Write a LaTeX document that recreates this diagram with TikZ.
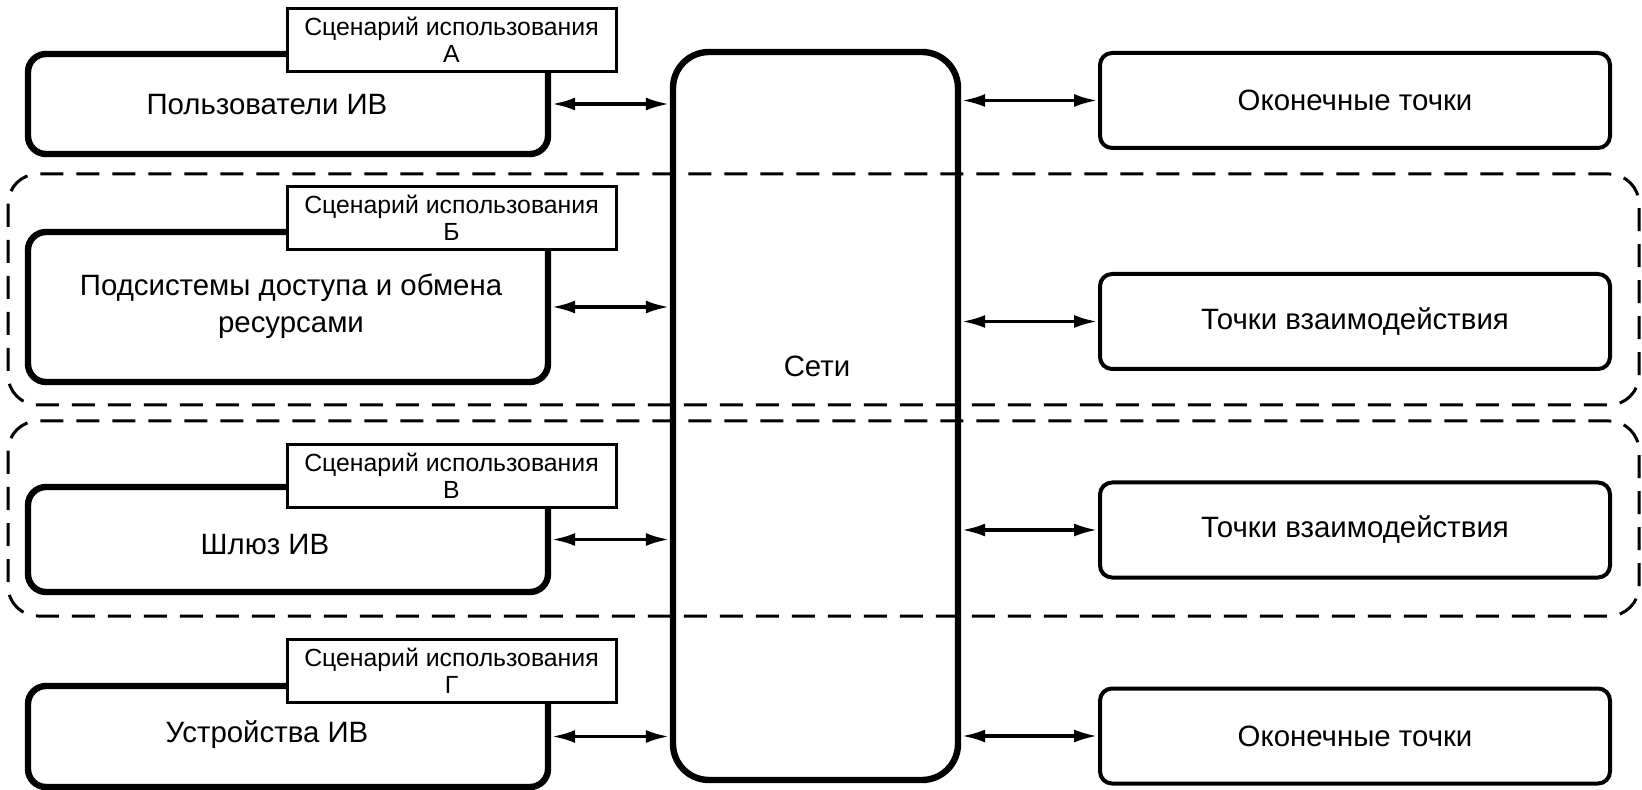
\documentclass[tikz,border=0pt]{standalone}
\usepackage{fontspec}
\setmainfont{Liberation Sans}
\usetikzlibrary{arrows.meta}

\tikzset{
  sysbox/.style={draw, line width=3.2pt, rounded corners=9pt, fill=white, inner sep=0pt},
  casebox/.style={draw, line width=1.5pt, fill=white, align=center, inner sep=0pt,
    minimum width=164.5pt, minimum height=31.5pt, font=\fontsize{12.4}{13.5}\selectfont},
  pointbox/.style={draw, line width=2pt, rounded corners=6pt, minimum width=255pt,
    minimum height=47.5pt, font=\fontsize{14.7}{18.5}\selectfont},
  zone/.style={draw, line width=1.5pt, dash pattern=on 11.5pt off 6.5pt, rounded corners=15pt},
  link/.style={line width=1.9pt, {Latex[length=12pt,width=6.5pt]}-{Latex[length=12pt,width=6.5pt]}},
  txt/.style={align=center, font=\fontsize{14.7}{18.5}\selectfont}
}

\begin{document}
\begin{tikzpicture}[x=0.5pt, y=-0.5pt]
\useasboundingbox (0,0) rectangle (1642,790);
% Dashed zones
\draw[zone] (8,174) rectangle (1639,405);
\draw[zone] (8,421) rectangle (1639,616);
% Networks
\node[draw, line width=3.2pt, rounded corners=18pt, minimum width=142.5pt, minimum height=364pt] (net) at (815.5,416) {};
\node[txt] (net-text) at (817,366) {Сети};
% Left side with use cases
\foreach \name/\y/\h/\ly/\case/\tx/\ty/\txt in {
    users/104/50pt/40/А/267/105/{Пользователи ИВ},
    access/307/75pt/218/Б/291/306/{Подсистемы доступа и обмена\\ресурсами},
    gateway/539.5/52.5pt/476/В/265/545/{Шлюз ИВ},
    devices/736.5/50.5pt/671/Г/267/735/{Устройства ИВ}} {
    \node[sysbox, minimum width=260pt, minimum height=\h] (\name) at (288,\y) {};
    \node[casebox] (\name-case) at (451.5,\ly) {Сценарий использования\\\case};
    \node[txt] (\name-text) at (\tx,\ty) {\txt};
    \draw[link] (\name.east) -- (\name.east -| net.west);
}
% Right side
\foreach \name/\y/\txt in {end1/100.5/Оконечные точки, inter1/321.5/Точки взаимодействия,
    inter2/530/Точки взаимодействия, end2/736/Оконечные точки} {
    \node[pointbox] (\name) at (1355,\y) {\txt};
    \draw[link] (net.east |- \name.west) -- (\name.west);
}
\end{tikzpicture}
\end{document}
